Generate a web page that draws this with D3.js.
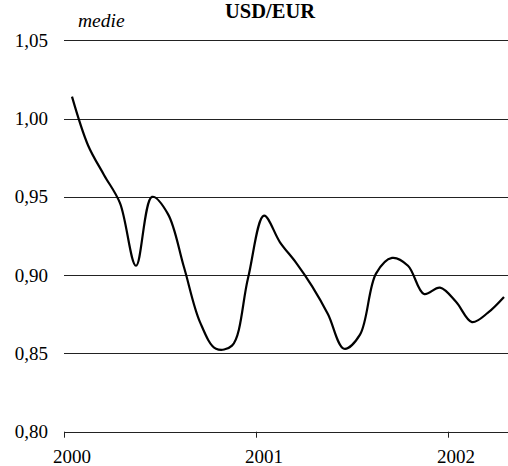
<!DOCTYPE html>
<html><head><meta charset="utf-8"><script src="https://cdn.jsdelivr.net/npm/d3@7"></script></head>
<body style="margin:0">
<script>
// monthly averages, Jan 2000 - Apr 2002
var months = ["2000-01","2000-02","2000-03","2000-04","2000-05","2000-06","2000-07","2000-08","2000-09","2000-10","2000-11","2000-12",
              "2001-01","2001-02","2001-03","2001-04","2001-05","2001-06","2001-07","2001-08","2001-09","2001-10","2001-11","2001-12",
              "2002-01","2002-02","2002-03","2002-04"];
var usdEur = [1.014, 0.983, 0.964, 0.946, 0.906, 0.950, 0.939, 0.905, 0.870, 0.853, 0.855, 0.898,
              0.938, 0.921, 0.908, 0.893, 0.875, 0.853, 0.862, 0.901, 0.911, 0.906, 0.888, 0.892,
              0.883, 0.870, 0.876, 0.886];
var yearTicks = [2000, 2001, 2002];
var yTicks = [0.80, 0.85, 0.90, 0.95, 1.00, 1.05];

var width = 508, height = 466;
var margin = {top: 40.3, right: 0, bottom: 34.3, left: 64};

var svg = d3.select("body").append("svg")
    .attr("width", width)
    .attr("height", height);

// x in months since Jan 2000
var x = d3.scaleLinear()
    .domain([0, 27.75])
    .range([margin.left, width - margin.right]);

var y = d3.scaleLinear()
    .domain([0.80, 1.05])
    .range([height - margin.bottom, margin.top]);

var fmt = d3.formatLocale({decimal: ",", thousands: ".", grouping: [3], currency: ["", ""]}).format(".2f");

var data = months.map(function(m, i) {
  var p = m.split("-");
  return {t: (+p[0] - 2000) * 12 + (+p[1] - 1) + 0.5, v: usdEur[i]};
});

// gridlines from the scale
svg.append("g")
  .selectAll("line")
  .data(yTicks)
  .enter().append("line")
    .attr("x1", margin.left)
    .attr("x2", width - margin.right)
    .attr("y1", function(d) { return Math.round(y(d)) + 0.5; })
    .attr("y2", function(d) { return Math.round(y(d)) + 0.5; })
    .attr("stroke", "#222");

// y labels
svg.append("g")
  .selectAll("text")
  .data(yTicks)
  .enter().append("text")
    .attr("x", 48)
    .attr("y", function(d) { return y(d) + 6.5; })
    .attr("text-anchor", "end")
    .style("font", "19px 'Times New Roman', 'Liberation Serif', serif")
    .text(function(d) { return fmt(d); });

// x ticks at year start
svg.append("g")
  .selectAll("line")
  .data(yearTicks)
  .enter().append("line")
    .attr("x1", function(d) { return Math.round(x((d - 2000) * 12)) + 0.5; })
    .attr("x2", function(d) { return Math.round(x((d - 2000) * 12)) + 0.5; })
    .attr("y1", y(0.80))
    .attr("y2", y(0.80) + 6)
    .attr("stroke", "#222");

// year labels centred under January
svg.append("g")
  .selectAll("text")
  .data(yearTicks)
  .enter().append("text")
    .attr("x", function(d) { return x((d - 2000) * 12 + 0.5); })
    .attr("y", 463)
    .attr("text-anchor", "middle")
    .style("font", "19px 'Times New Roman', 'Liberation Serif', serif")
    .text(function(d) { return d; });

var line = d3.line()
    .x(function(d) { return x(d.t); })
    .y(function(d) { return y(d.v); })
    .curve(d3.curveCatmullRom.alpha(0.5));

svg.append("path")
    .datum(data)
    .attr("fill", "none")
    .attr("stroke", "#000")
    .attr("stroke-width", 2.2)
    .attr("stroke-linejoin", "round")
    .attr("d", line);

svg.append("text")
    .attr("x", 270)
    .attr("y", 18)
    .attr("text-anchor", "middle")
    .style("font", "bold 20.5px 'Times New Roman', 'Liberation Serif', serif")
    .text("USD/EUR");

svg.append("text")
    .attr("x", 78)
    .attr("y", 27)
    .style("font", "italic 19.5px 'Times New Roman', 'Liberation Serif', serif")
    .text("medie");
</script>
</body></html>
